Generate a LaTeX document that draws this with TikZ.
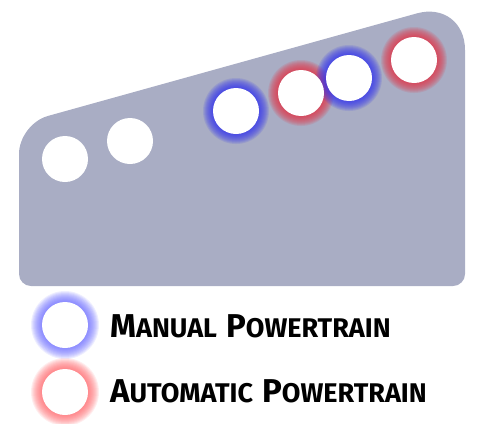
\documentclass[tikz,border=0pt]{standalone}
\usepackage{fontspec}
\setmainfont{Fira Sans}
\usepackage{xcolor}
\usetikzlibrary{positioning}
\definecolor{panelgray}{RGB}{169,173,196}
\definecolor{manualblue}{RGB}{50,50,240}
\definecolor{autored}{RGB}{230,50,70}
\definecolor{legblue}{RGB}{100,100,255}
\definecolor{legred}{RGB}{255,95,100}
% fake small caps: first letter big, rest smaller
\newcommand{\capword}[2]{{\fontsize{33}{40}\selectfont #1}{\fontsize{27}{34}\selectfont #2}}

\begin{document}
\begin{tikzpicture}[
  x=1pt, y=-1pt,
  hole/.style={circle, fill=white, inner sep=0pt, minimum size=46pt},
  legtext/.style={anchor=base west, inner sep=0pt, font=\bfseries}
]
\useasboundingbox (0,0) rectangle (478,423);

% panel
\fill[panelgray] (19,200) [rounded corners=12pt] -- (19,286) -- (465,286)
  [rounded corners=50pt] -- (465,0) [rounded corners=30pt] -- (19,124) -- cycle;

% glows under the holes
\foreach \x/\y/\c in {236/111/manualblue, 301/93/autored, 349/78/manualblue, 414/60/autored}
  \foreach \r in {33,32,...,24}
    \fill[\c, opacity=0.13] (\x,\y) circle (\r);
\foreach \x/\y/\c in {65/325/legblue, 65/392/legred}
  \foreach \r in {34,33,...,24}
    \fill[\c, opacity=0.11] (\x,\y) circle (\r);

% holes
\node[hole] (plain1) at (65,159) {};
\node[hole] (plain2) at (130,141) {};
\node[hole] (man1) at (236,111) {};
\node[hole] (auto1) at (301,93) {};
\node[hole] (man2) at (349,78) {};
\node[hole] (auto2) at (414,60) {};

% legend
\node[hole] (manlegend) at (65,325) {};
\node[hole] (autolegend) at (65,392) {};
\node[legtext] (mantext) at (110,337) {\capword{M}{ANUAL}\hspace{9pt}\capword{P}{OWERTRAIN}};
\node[legtext] (autotext) at (110,402) {\capword{A}{UTOMATIC}\hspace{9pt}\capword{P}{OWERTRAIN}};
\end{tikzpicture}
\end{document}
